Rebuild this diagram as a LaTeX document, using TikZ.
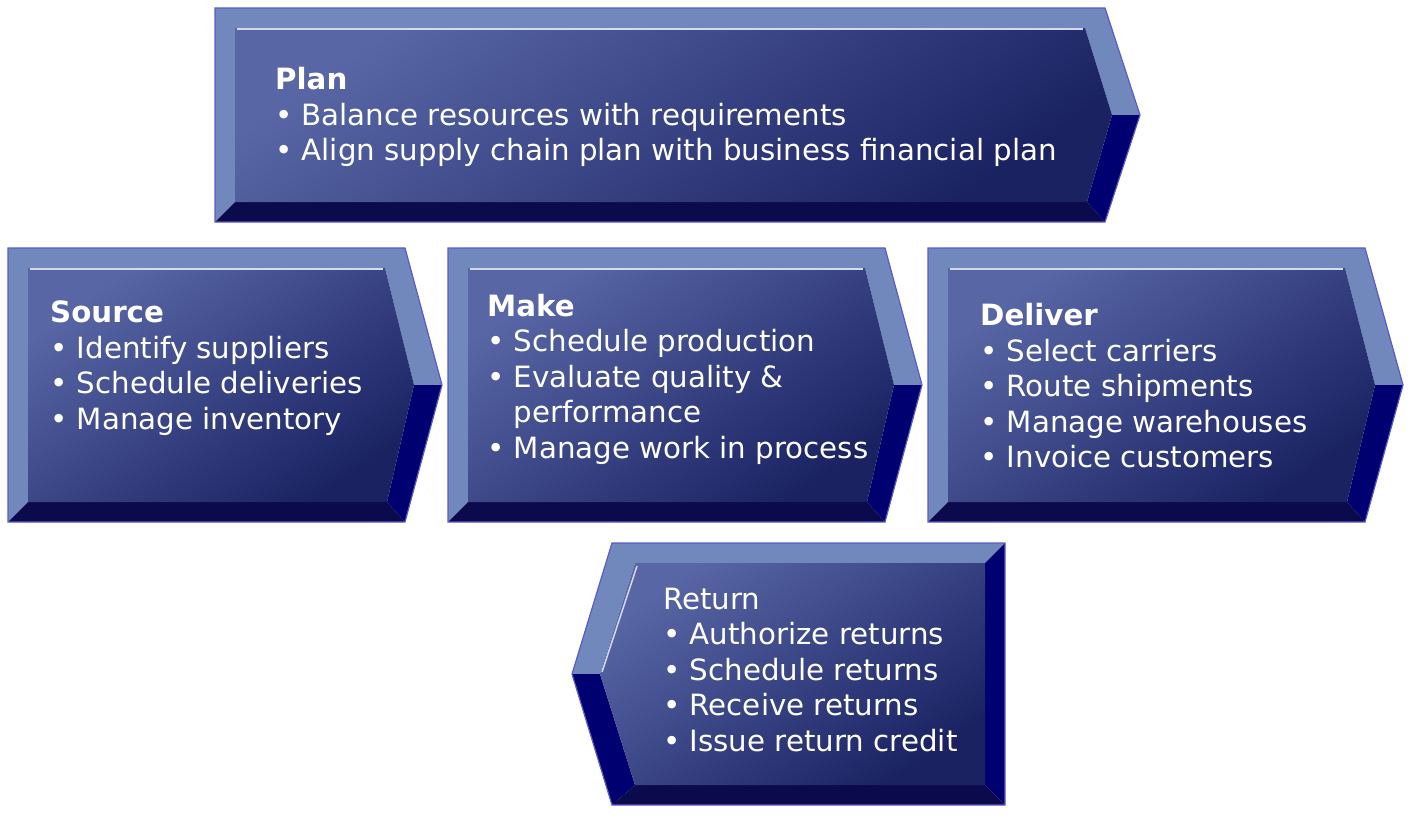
\documentclass[tikz,border=0pt]{standalone}
\usepackage{fontspec}
\setmainfont{DejaVu Sans}
\usetikzlibrary{calc}
\definecolor{lite}{HTML}{7088BC}
\definecolor{navy}{HTML}{000070}
\definecolor{botm}{HTML}{0A0A4C}
\definecolor{faceA}{HTML}{5866A6}
\definecolor{faceB}{HTML}{1A2262}
\definecolor{edge}{HTML}{5A5ACC}
\tikzset{
 lbl/.style={anchor=west,text=white,align=left,font=\fontsize{29.3}{35.5}\selectfont,inner sep=0pt},
}
% right arrow: x1 x2 tip y1 y2
\newcommand\rarr[5]{%
 \pgfmathsetmacro\ym{(#4+#5)/2}
 \fill[lite] (#1,#4)--(#2,#4)--(#3,\ym)--(#3-28,\ym)--(#2-20,#4+20)--(#1+20,#4+20)--(#1+20,#5-20)--(#1,#5)--cycle;
 \fill[navy] (#3,\ym)--(#2,#5)--(#2-18,#5-20)--(#3-28,\ym)--cycle;
 \fill[botm] (#1,#5)--(#2,#5)--(#2-18,#5-20)--(#1+20,#5-20)--cycle;
 \shade[top color=faceA,bottom color=faceB,shading angle=35] (#1+20,#4+20)--(#2-20,#4+20)--(#3-28,\ym)--(#2-18,#5-20)--(#1+20,#5-20)--cycle;
 \draw[white!70!lite,line width=1.5] (#1+22,#4+21)--(#2-22,#4+21);
 \draw[edge,line width=1.2] (#1,#4)--(#2,#4)--(#3,\ym)--(#2,#5)--(#1,#5)--cycle;
}
\begin{document}
\begin{tikzpicture}[x=1pt,y=-1pt]
\useasboundingbox (0,0) rectangle (1410,814);
\rarr{215}{1105}{1140}{8}{222}
\rarr{8}{405}{442}{248}{522}
\rarr{448}{885}{922}{248}{522}
\rarr{928}{1365}{1403}{248}{522}
% Return (left arrow)
\fill[lite] (1005,543)--(612,543)--(572,674)--(600,674)--(635,563)--(985,563)--cycle;
\fill[navy] (572,674)--(612,805)--(635,785)--(600,674)--cycle;
\fill[navy] (1005,543)--(985,563)--(985,785)--(1005,805)--cycle;
\fill[botm] (612,805)--(1005,805)--(985,785)--(635,785)--cycle;
\shade[top color=faceA,bottom color=faceB,shading angle=35] (635,563)--(985,563)--(985,785)--(635,785)--(600,674)--cycle;
\draw[white!70!lite,line width=1.5] (637,566)--(602,672);
\draw[edge,line width=1.2] (1005,543)--(612,543)--(572,674)--(612,805)--(1005,805)--cycle;
\node[lbl] (plan) at (275,117) {\textbf{Plan}\\• Balance resources with requirements\\• Align supply chain plan with business financial plan};
\node[lbl] (src) at (50,368) {\textbf{Source}\\• Identify suppliers\\• Schedule deliveries\\• Manage inventory};
\node[lbl] (make) at (487,379) {\textbf{Make}\\• Schedule production\\• Evaluate quality \&\\\phantom{• }performance\\• Manage work in process};
\node[lbl] (dlv) at (980,386) {\textbf{Deliver}\\• Select carriers\\• Route shipments\\• Manage warehouses\\• Invoice customers};
\node[lbl] (ret) at (663,670) {Return\\• Authorize returns\\• Schedule returns\\• Receive returns\\• Issue return credit};
\end{tikzpicture}
\end{document}
